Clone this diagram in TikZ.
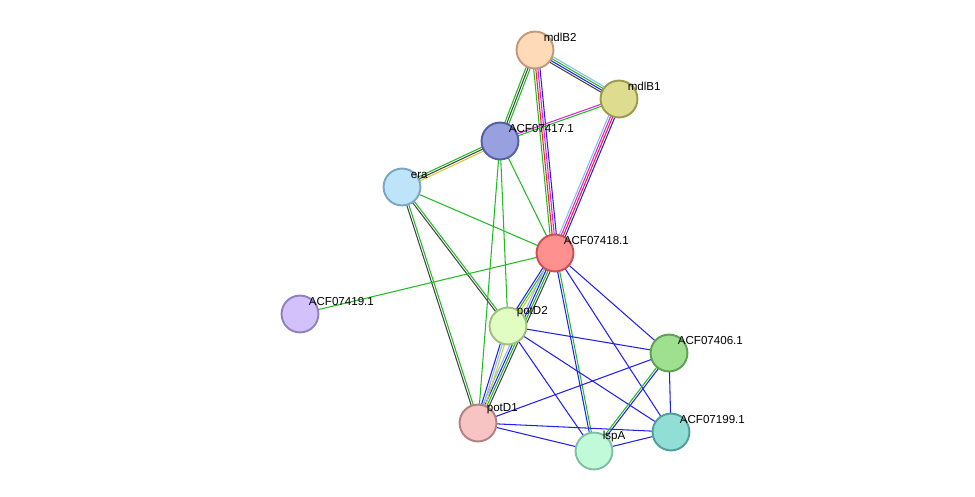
\documentclass[tikz,border=0pt]{standalone}
\usepackage{fontspec}
\setmainfont{Liberation Sans}
\usetikzlibrary{calc, backgrounds}

\definecolor{egreen}{HTML}{22BB22}
\definecolor{eblue}{HTML}{2222EE}
\definecolor{ecyan}{HTML}{88BBEE}
\definecolor{eyellow}{HTML}{CCCC33}
\definecolor{emag}{HTML}{DD22DD}
\definecolor{ered}{HTML}{EE2222}
\definecolor{egrey}{HTML}{444444}

% one coloured strand of an edge, shifted sideways by #3
\newcommand{\strand}[4]{%
  \draw[#4, line width=0.6pt] ($(#1.center)!#3!90:(#2.center)$) -- ($(#2.center)!#3!-90:(#1.center)$);}
% edge with up to four strands
\newcommand{\edgeone}[3]{\strand{#1}{#2}{0pt}{#3}}
\newcommand{\edgetwo}[4]{\strand{#1}{#2}{-0.6pt}{#3}\strand{#1}{#2}{0.6pt}{#4}}
\newcommand{\edgethree}[5]{\strand{#1}{#2}{-1.2pt}{#3}\strand{#1}{#2}{0pt}{#4}\strand{#1}{#2}{1.2pt}{#5}}
\newcommand{\edgefour}[6]{\strand{#1}{#2}{-1.8pt}{#3}\strand{#1}{#2}{-0.6pt}{#4}\strand{#1}{#2}{0.6pt}{#5}\strand{#1}{#2}{1.8pt}{#6}}

\begin{document}
\begin{tikzpicture}[
    x=0.02cm, y=-0.02cm,
    protein/.style={circle, draw, line width=1.1pt, minimum size=21pt, inner sep=0pt,
      label={[anchor=south west, inner sep=0pt, font=\fontsize{6.6}{8}\selectfont, xshift=-3pt, yshift=-3pt]45:#1}}
]
\useasboundingbox (0,0) rectangle (975,497);

% Proteins
\node[protein=mdlB2, fill={rgb,255:red,255;green,218;blue,185}, draw={rgb,255:red,192;green,154;blue,122}] (mdlBtwo) at (535,50) {};
\node[protein=mdlB1, fill={rgb,255:red,222;green,220;blue,142}, draw={rgb,255:red,155;green,155;blue,74}] (mdlBone) at (619,99) {};
\node[protein=ACF07417.1, fill={rgb,255:red,153;green,160;blue,224}, draw={rgb,255:red,85;green,96;blue,160}] (acfsevteen) at (500,141) {};
\node[protein=era, fill={rgb,255:red,189;green,228;blue,248}, draw={rgb,255:red,123;green,166;blue,196}] (era) at (402,187) {};
\node[protein=ACF07418.1, fill={rgb,255:red,255;green,144;blue,144}, draw={rgb,255:red,204;green,80;blue,80}] (acfeighteen) at (555,253) {};
\node[protein=ACF07419.1, fill={rgb,255:red,211;green,193;blue,252}, draw={rgb,255:red,144;green,128;blue,192}] (acfnineteen) at (300,314) {};
\node[protein=potD2, fill={rgb,255:red,226;green,253;blue,194}, draw={rgb,255:red,160;green,192;blue,128}] (potDtwo) at (508,326) {};
\node[protein=ACF07406.1, fill={rgb,255:red,159;green,223;blue,144}, draw={rgb,255:red,95;green,160;blue,85}] (acfsix) at (669,353) {};
\node[protein=potD1, fill={rgb,255:red,247;green,195;blue,195}, draw={rgb,255:red,181;green,128;blue,128}] (potDone) at (478,423) {};
\node[protein=ACF07199.1, fill={rgb,255:red,144;green,222;blue,214}, draw={rgb,255:red,79;green,160;blue,152}] (acfnine) at (671,432) {};
\node[protein=lspA, fill={rgb,255:red,193;green,250;blue,216}, draw={rgb,255:red,128;green,192;blue,160}] (lspA) at (594,451) {};

% Interactions
\begin{scope}[on background layer]
\edgefour{mdlBtwo}{mdlBone}{egrey}{eblue}{egreen}{ecyan}
\edgethree{mdlBtwo}{acfsevteen}{egreen}{egrey}{egreen}
\edgefour{mdlBtwo}{acfeighteen}{egreen}{ered}{emag}{eblue}
\edgetwo{mdlBone}{acfsevteen}{emag}{egreen}
\edgefour{mdlBone}{acfeighteen}{ecyan}{emag}{ered}{eblue}
\edgethree{acfsevteen}{era}{egreen}{egrey}{eyellow}
\edgeone{acfsevteen}{acfeighteen}{egreen}
\edgeone{acfsevteen}{potDtwo}{egreen}
\edgeone{acfsevteen}{potDone}{egreen}
\edgeone{era}{acfeighteen}{egreen}
\edgetwo{era}{potDtwo}{egrey}{egreen}
\edgetwo{era}{potDone}{egrey}{egreen}
\edgeone{acfeighteen}{acfnineteen}{egreen}
\edgethree{acfeighteen}{potDtwo}{eblue}{egreen}{eyellow}
\edgefour{acfeighteen}{potDone}{ecyan}{eblue}{egreen}{egrey}
\edgeone{acfeighteen}{acfsix}{eblue}
\edgeone{acfeighteen}{acfnine}{eblue}
\edgetwo{acfeighteen}{lspA}{eblue}{egreen}
\edgethree{potDtwo}{potDone}{eblue}{ecyan}{eyellow}
\edgeone{potDtwo}{acfsix}{eblue}
\edgeone{potDtwo}{acfnine}{eblue}
\edgeone{potDtwo}{lspA}{eblue}
\edgeone{potDone}{acfsix}{eblue}
\edgeone{potDone}{acfnine}{eblue}
\edgeone{potDone}{lspA}{eblue}
\edgeone{acfsix}{acfnine}{eblue}
\edgetwo{acfsix}{lspA}{egreen}{eblue}
\edgeone{acfnine}{lspA}{eblue}
\end{scope}

\end{tikzpicture}
\end{document}
